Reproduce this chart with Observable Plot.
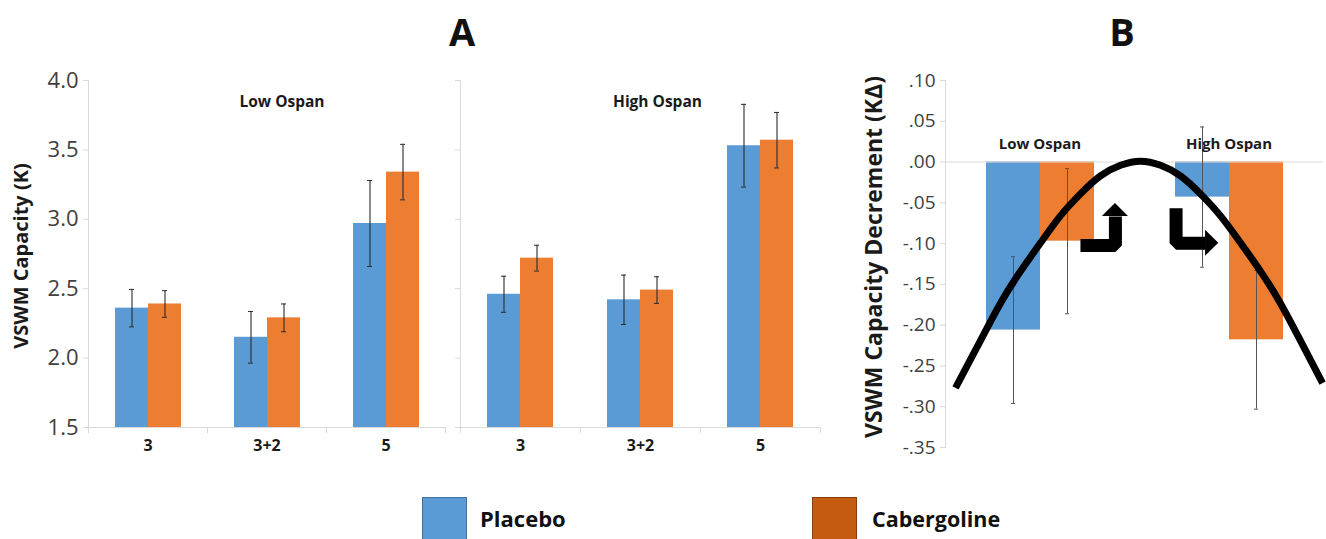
<!DOCTYPE html>
<html><head><meta charset="utf-8">
<script src="https://cdn.jsdelivr.net/npm/d3@7"></script>
<script src="https://cdn.jsdelivr.net/npm/@observablehq/plot@0.6"></script>
<style>
body{margin:0;background:#fff;font-family:"Open Sans",sans-serif;}
#root{position:relative;width:1326px;height:539px;overflow:hidden;background:#fff;}
.abs{position:absolute;}
.abs svg{display:block;}
</style></head><body><div id="root"></div>
<script>
// ---------- Panel A data ----------
const loads = ["3", "3+2", "5"];
const drugs = ["Placebo", "Cabergoline"];
const lowPlacebo = [2.36, 2.15, 2.97];
const lowPlaceboErr = [0.135, 0.186, 0.31];
const lowCabergoline = [2.39, 2.29, 3.34];
const lowCabergolineErr = [0.096, 0.10, 0.20];
const highPlacebo = [2.46, 2.42, 3.53];
const highPlaceboErr = [0.13, 0.178, 0.298];
const highCabergoline = [2.72, 2.49, 3.57];
const highCabergolineErr = [0.093, 0.096, 0.20];
const yDomainA = [1.5, 4.0];
const yTicksA = [1.5, 2.0, 2.5, 3.0, 3.5, 4.0];
const panelTitlesA = ["Low Ospan", "High Ospan"];
const yLabelA = "VSWM Capacity (K)";

// ---------- Panel B data ----------
const groupsB = ["Low Ospan", "High Ospan"];
const decPlacebo = [-0.206, -0.043];
const decPlaceboErr = [0.09, 0.086];
const decCabergoline = [-0.097, -0.218];
const decCabergolineErr = [0.089, 0.085];
const yDomainB = [-0.35, 0.10];
const yTicksB = [0.10, 0.05, 0.00, -0.05, -0.10, -0.15, -0.20, -0.25, -0.30, -0.35];
const yLabelB = "VSWM Capacity Decrement (KΔ)";

// inverted-U annotation curve (x in group units 0..2, y in KΔ)
const curveX = [0.053, 0.185, 0.291, 0.397, 0.503, 0.608, 0.714, 0.820, 0.926, 1.032, 1.138, 1.243, 1.349, 1.455, 1.561, 1.667, 1.772, 1.878, 1.995];
const curveY = [-0.277, -0.219, -0.173, -0.134, -0.099, -0.066, -0.039, -0.017, -0.004, 0.001, -0.004, -0.017, -0.039, -0.066, -0.099, -0.134, -0.173, -0.219, -0.271];
// bent arrows
const arrowUpX = [0.714, 0.899, 0.899];
const arrowUpY = [-0.1023, -0.1023, -0.0668];
const arrowUpHeadY = [-0.0668, -0.0508];
const arrowUpHeadX1 = [0.830, 0.899];
const arrowUpHeadX2 = [0.968, 0.899];
const arrowRightX = [1.220, 1.220, 1.376];
const arrowRightY = [-0.0566, -0.0995, -0.0995];
const arrowRightHeadX = [1.376, 1.446];
const arrowRightHeadY1 = [-0.1154, -0.0995];
const arrowRightHeadY2 = [-0.0836, -0.0995];

// ---------- legend / titles ----------
const legendLabels = ["Placebo", "Cabergoline"];
const legendColors = ["#5B9BD5", "#C55A11"];
const legendBorders = ["#41719C", "#8A3E0C"];
const panelLetters = ["A", "B"];

const barColors = ["#5B9BD5", "#ED7D31"];
const gridGray = "#d9d9d9";
const font = "'Open Sans', sans-serif";
const root = document.getElementById("root");

function place(el, left, top, width) {
  const d = document.createElement("div");
  d.className = "abs";
  d.style.left = left + "px";
  d.style.top = top + "px";
  if (width) d.style.width = width + "px";
  d.appendChild(el);
  root.appendChild(d);
  return d;
}

function panelA(pl, plErr, cab, cabErr, {width, marginLeft, marginRight, title, titleDx, showLabels}) {
  const data = loads.flatMap((l, i) => [
    {load: l, drug: drugs[0], v: pl[i], e: plErr[i]},
    {load: l, drug: drugs[1], v: cab[i], e: cabErr[i]}
  ]);
  const frameH = 347;
  return Plot.plot({
    width, height: 402, marginTop: 20, marginBottom: 35, marginLeft, marginRight,
    style: {fontFamily: font, background: "transparent", overflow: "visible"},
    fx: {domain: loads, padding: 0, label: null},
    x: {domain: drugs, paddingInner: 0, paddingOuter: 0.77, axis: null},
    y: {domain: yDomainA},
    color: {domain: drugs, range: barColors},
    marks: [
      Plot.ruleY([yDomainA[0]], {stroke: gridGray}),
      Plot.frame({anchor: "left", facetAnchor: "left", stroke: gridGray}),
      Plot.frame({anchor: "left", stroke: gridGray, insetTop: frameH, insetBottom: -5}),
      Plot.frame({anchor: "right", facetAnchor: "right", stroke: gridGray, insetTop: frameH, insetBottom: -5}),
      Plot.axisY({ticks: yTicksA, tickSize: 5, tickPadding: 5, stroke: gridGray, fill: "#404040", fontSize: 22, label: null,
        tickFormat: showLabels ? (d => d.toFixed(1)) : (() => "")}),
      Plot.axisFx({anchor: "bottom", tickSize: 0, tickPadding: 12, fontSize: 16, fontWeight: "bold", fill: "#1a1a1a", label: null}),
      Plot.barY(data, {fx: "load", x: "drug", y1: () => yDomainA[0], y2: "v", fill: "drug"}),
      Plot.ruleX(data, {fx: "load", x: "drug", y1: d => d.v - d.e, y2: d => d.v + d.e, stroke: "#2b2b2b", strokeWidth: 1.1}),
      Plot.tickY(data, {fx: "load", x: "drug", y: d => d.v + d.e, insetLeft: 14, insetRight: 14, stroke: "#2b2b2b"}),
      Plot.tickY(data, {fx: "load", x: "drug", y: d => d.v - d.e, insetLeft: 14, insetRight: 14, stroke: "#2b2b2b"}),
      Plot.text([title], {fx: () => loads[1], frameAnchor: "top", dy: 15, dx: titleDx, fontSize: 15.5, fontWeight: "bold", fill: "#1a1a1a"}),
      showLabels ? Plot.text([yLabelA], {fx: () => loads[0], frameAnchor: "left", textAnchor: "middle", rotate: -90, dx: -67, dy: 2, fontSize: 20, fontWeight: "bold", fill: "#1a1a1a"}) : null
    ]
  });
}

place(panelA(lowPlacebo, lowPlaceboErr, lowCabergoline, lowCabergolineErr,
  {width: 452, marginLeft: 88, marginRight: 7, title: panelTitlesA[0], titleDx: 15, showLabels: true}), 0, 60, 452);
place(panelA(highPlacebo, highPlaceboErr, highCabergoline, highCabergolineErr,
  {width: 375, marginLeft: 8, marginRight: 7, title: panelTitlesA[1], titleDx: 17, showLabels: false}), 452, 60, 375);

// ---------- Panel B ----------
const dataB = groupsB.flatMap((g, i) => [
  {group: g, drug: drugs[0], v: decPlacebo[i], e: decPlaceboErr[i]},
  {group: g, drug: drugs[1], v: decCabergoline[i], e: decCabergolineErr[i]}
]);
const fmtB = d => (d < -1e-9 ? "-" : "") + Math.abs(d).toFixed(2).replace(/^0/, "");
const dimsB = {width: 499, height: 402, marginTop: 20, marginBottom: 15, marginLeft: 118, marginRight: 3};

const plotB = Plot.plot({
  ...dimsB,
  style: {fontFamily: font, background: "transparent", overflow: "visible"},
  fx: {domain: groupsB, padding: 0, axis: null},
  x: {domain: drugs, paddingInner: 0, paddingOuter: 0.75, axis: null},
  y: {domain: yDomainB},
  color: {domain: drugs, range: barColors},
  marks: [
    Plot.frame({anchor: "left", facetAnchor: "left", stroke: gridGray}),
    Plot.axisY({ticks: yTicksB, tickFormat: fmtB, tickSize: 5, tickPadding: 5, stroke: gridGray, fill: "#404040", fontSize: 19, label: null}),
    Plot.barY(dataB, {fx: "group", x: "drug", y1: () => 0, y2: "v", fill: "drug"}),
    Plot.ruleY([0], {stroke: gridGray}),
    Plot.ruleX(dataB, {fx: "group", x: "drug", y1: d => d.v - d.e, y2: d => d.v + d.e, stroke: "#555", strokeWidth: 1}),
    Plot.tickY(dataB, {fx: "group", x: "drug", y: d => d.v + d.e, insetLeft: 25, insetRight: 25, stroke: "#555"}),
    Plot.tickY(dataB, {fx: "group", x: "drug", y: d => d.v - d.e, insetLeft: 25, insetRight: 25, stroke: "#555"}),
    Plot.text(groupsB, {fx: d => d, y: () => 0, dy: -18, fontSize: 15, fontWeight: "bold", fill: "#1a1a1a"}),
    Plot.text([yLabelB], {fx: () => groupsB[0], frameAnchor: "left", textAnchor: "middle", rotate: -90, dx: -71, dy: -7, fontSize: 23, fontWeight: "bold", fill: "#1a1a1a"})
  ]
});
place(plotB, 827, 60, 499);

const overlayB = Plot.plot({
  ...dimsB,
  style: {background: "transparent", overflow: "visible"},
  x: {domain: [0, 2], axis: null},
  y: {domain: yDomainB, axis: null},
  marks: [
    Plot.line(curveX, {x: curveX, y: curveY, curve: "natural", stroke: "#000", strokeWidth: 7, strokeLinecap: "butt"}),
    Plot.line(arrowUpX, {x: arrowUpX, y: arrowUpY, stroke: "#000", strokeWidth: 13, strokeLinejoin: "miter", strokeLinecap: "butt"}),
    Plot.areaX(arrowUpHeadY, {y: arrowUpHeadY, x1: arrowUpHeadX1, x2: arrowUpHeadX2, fill: "#000"}),
    Plot.line(arrowRightX, {x: arrowRightX, y: arrowRightY, stroke: "#000", strokeWidth: 13, strokeLinejoin: "miter", strokeLinecap: "butt"}),
    Plot.areaY(arrowRightHeadX, {x: arrowRightHeadX, y1: arrowRightHeadY1, y2: arrowRightHeadY2, fill: "#000"})
  ]
});
place(overlayB, 827, 60, 499);

// ---------- titles ----------
function textDiv(txt, size, weight, left, width, baseline, align) {
  const d = document.createElement("div");
  d.className = "abs";
  d.textContent = txt;
  d.style.cssText = `position:absolute;left:${left}px;top:${baseline - 0.888 * size}px;width:${width}px;font:${weight} ${size}px/${size}px 'Open Sans',sans-serif;color:#111;text-align:${align};white-space:nowrap;`;
  root.appendChild(d);
}
textDiv(panelLetters[0], 38, 700, 412, 100, 46, "center");
textDiv(panelLetters[1], 38, 700, 1072, 100, 46, "center");

// ---------- legend ----------
const swatchLeft = [422, 812];
const textLeft = [480, 872];
const textSize = [22, 21.5];
legendLabels.forEach((lab, i) => {
  const s = document.createElement("div");
  s.style.cssText = `position:absolute;left:${swatchLeft[i]}px;top:497px;width:45px;height:46px;box-sizing:border-box;background:${legendColors[i]};border:1.5px solid ${legendBorders[i]};`;
  root.appendChild(s);
  textDiv(lab, textSize[i], 700, textLeft[i], 200, 527, "left");
});
</script></body></html>
